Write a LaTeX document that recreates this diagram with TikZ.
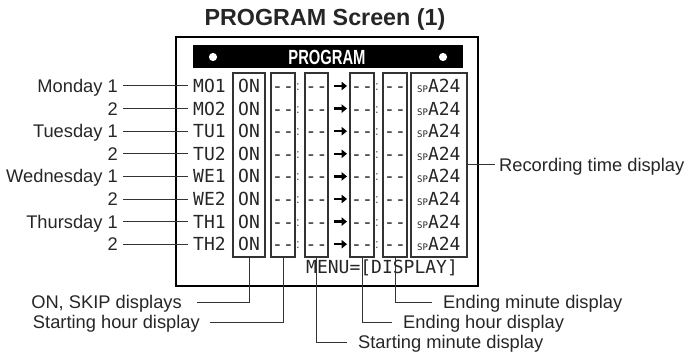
\documentclass[tikz,border=0pt]{standalone}
\usepackage{fontspec}
\usepackage{graphicx}
\setmainfont{Liberation Sans}
\newfontfamily\lcd{DejaVu Sans Mono}
\newfontfamily\lcdbar[FakeStretch=0.72]{Liberation Sans Bold}
\usetikzlibrary{arrows.meta}
\begin{document}
\begin{tikzpicture}[x=1pt,y=-1pt,
  lab/.style={font=\fontsize{18.3}{20}\selectfont, inner sep=0pt, text height=13.1pt, text depth=0pt, text=black!85},
  lcdtxt/.style={font=\lcd\fontsize{18}{20}\selectfont, inner sep=0pt, text height=13.1pt, text depth=0pt, text=black!85},
  colbox/.style={draw=black!80, line width=1.1pt, inner sep=0pt, outer sep=0pt, minimum height=184pt},
  conn/.style={draw=black!80, line width=1pt},
  tiparrow/.style={line width=2.3pt, -{Triangle[length=5.5pt,width=8.5pt]}},
  colon/.style={font=\fontsize{13}{13}\selectfont, inner sep=0pt, text=black!70}
]
\useasboundingbox (0,0) rectangle (687,358);

% title
\node[font=\bfseries\fontsize{23.3}{25}\selectfont, text=black!85] (title) at (325,19) {PROGRAM Screen (1)};

% frame
\node[draw=black, line width=2.4pt, inner sep=0pt, minimum width=302pt, minimum height=249pt] (frame) at (327,161.5) {};

% header bar
\node[fill=black, inner sep=0pt, minimum width=270pt, minimum height=23pt] (bar) at (328,56.5) {};
\fill[white] (213,57) circle (4.1);
\fill[white] (443,57) circle (4.1);
\node[font=\lcdbar\fontsize{20.5}{22}\selectfont, text=white, inner sep=0pt, text height=14.7pt, text depth=0pt] (bartxt) at (327,57) {PROGRAM};

% column boxes
\node[colbox, minimum width=32pt] (cOn) at (249,165) {};
\node[colbox, minimum width=24pt] (cSH) at (283,165) {};
\node[colbox, minimum width=23pt] (cSM) at (316.5,165) {};
\node[colbox, minimum width=24pt] (cEH) at (362,165) {};
\node[colbox, minimum width=24pt] (cEM) at (395,165) {};
\node[colbox, minimum width=56pt] (cRec) at (439,165) {};

% rows
\foreach \i/\code/\lbl [count=\n] in {
  0/MO1/Monday 1, 1/MO2/2, 2/TU1/Tuesday 1, 3/TU2/2,
  4/WE1/Wednesday 1, 5/WE2/2, 6/TH1/Thursday 1, 7/TH2/2} {
  \pgfmathsetmacro\yy{86+22.6*\i}
  \node[lcdtxt, anchor=west] (r\n) at (193,\yy) {\code};
  \node[lab, anchor=east] (l\n) at (118,\yy) {\lbl};
  \draw[conn, shorten <=5pt, shorten >=5pt] (l\n.east) -- (r\n.west);
  \node[lcdtxt] (on\n) at (249,\yy) {ON};
  \node[lcdtxt] (sh\n) at (283,\yy) {-{}-};
  \node[colon] (ca\n) at (298,\yy+1) {:};
  \node[lcdtxt] (sm\n) at (316.5,\yy) {-{}-};
  \draw[tiparrow] (334,\yy) -- (347,\yy);
  \node[lcdtxt] (eh\n) at (362,\yy) {-{}-};
  \node[colon] (cb\n) at (377,\yy+1) {:};
  \node[lcdtxt] (em\n) at (395,\yy) {-{}-};
  \node[lcdtxt, anchor=west] (rec\n) at (417,\yy) {{\fontsize{9}{9}\selectfont SP}A24};
}

% menu line
\node[lcdtxt, anchor=west] (menu) at (306,267) {MENU=[DISPLAY]};

% bottom labels
\node[lab, anchor=east] (lOn) at (182,302) {ON, SKIP displays};
\node[lab, anchor=east] (lSH) at (200,322) {Starting hour display};
\node[lab, anchor=west] (lSM) at (358,342) {Starting minute display};
\node[lab, anchor=west] (lEH) at (403,322) {Ending hour display};
\node[lab, anchor=west] (lEM) at (443,302) {Ending minute display};
\node[lab, anchor=west] (lRec) at (499,165) {Recording time display};

\draw[conn, shorten >=15pt] (cOn.south) |- (lOn.east);
\draw[conn, shorten >=10pt] (cSH.south) |- (lSH.east);
\draw[conn, shorten >=11pt] (cSM.south) |- (lSM.west);
\draw[conn, shorten >=11pt] (cEH.south) |- (lEH.west);
\draw[conn, shorten >=11pt] (cEM.south) |- (lEM.west);
\draw[conn, shorten >=4pt] (cRec.east) -- (lRec.west);
\end{tikzpicture}
\end{document}
